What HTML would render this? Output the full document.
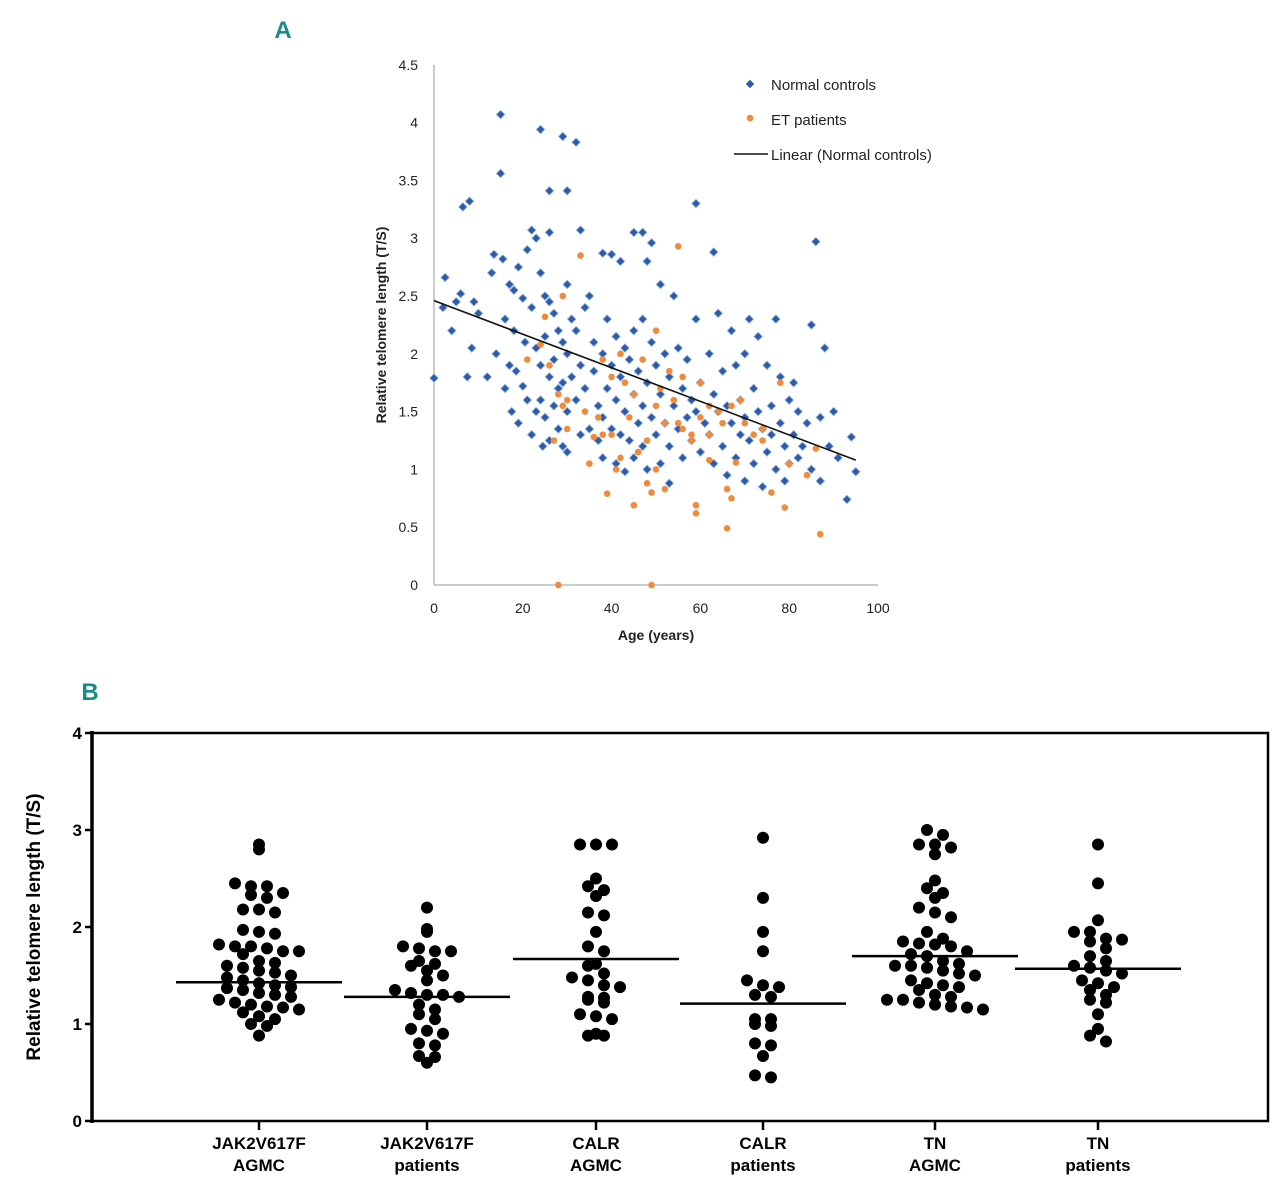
<!DOCTYPE html>
<html><head><meta charset="utf-8"><style>
body{margin:0;background:#fff;}
svg{display:block;font-family:"Liberation Sans",sans-serif;}
</style></head><body>
<svg id="chart" width="1280" height="1187" viewBox="0 0 1280 1187" xmlns="http://www.w3.org/2000/svg">
<text x="283" y="38" font-size="24" font-weight="bold" fill="#1a8a8a" text-anchor="middle">A</text>
<text x="90" y="700" font-size="24" font-weight="bold" fill="#1a8a8a" text-anchor="middle">B</text>
<g id="pa"></g>
<g id="pb"></g>
</svg>
<script>
const ageTicks=[0,20,40,60,80,100];
const tsTicks=[0,0.5,1,1.5,2,2.5,3,3.5,4,4.5];
const trendAge=[0,95];
const trendVal=[2.46,1.08];
const controls=[[0,1.79],[2,2.4],[2.5,2.66],[4,2.2],[5,2.45],[6,2.52],[6.5,3.27],[8,3.32],[7.5,1.8],[8.5,2.05],[9,2.45],[10,2.35],[12,1.8],[13,2.7],[13.5,2.86],[14,2.0],[15,4.07],[15,3.56],[15.5,2.82],[16,2.3],[16,1.7],[17,2.6],[17,1.9],[17.5,1.5],[18,2.55],[18,2.2],[18.5,1.85],[19,2.75],[19,1.4],[20,2.48],[20,1.72],[20.5,2.1],[21,2.9],[21,1.6],[22,3.07],[22,2.4],[22,1.3],[23,3.0],[23,2.05],[23,1.5],[24,3.94],[24,2.7],[24,1.9],[24,1.6],[24.5,1.2],[25,2.5],[25,2.15],[25,1.45],[26,3.41],[26,3.05],[26,2.45],[26,1.8],[26,1.25],[27,2.35],[27,1.95],[27,1.55],[28,2.2],[28,1.7],[28,1.35],[29,3.88],[29,2.1],[29,1.75],[29,1.2],[30,3.41],[30,2.6],[30,2.0],[30,1.5],[30,1.15],[31,2.3],[31,1.8],[32,3.83],[32,2.2],[32,1.6],[33,3.07],[33,1.9],[33,1.3],[34,2.4],[34,1.7],[35,2.5],[35,1.35],[36,2.1],[36,1.85],[37,1.55],[37,1.25],[38,2.87],[38,2.0],[38,1.45],[38,1.1],[39,2.3],[39,1.7],[40,2.86],[40,1.9],[40,1.35],[41,2.15],[41,1.6],[41,1.05],[42,2.8],[42,1.8],[42,1.3],[43,2.05],[43,1.5],[43,0.98],[44,1.95],[44,1.25],[45,3.05],[45,2.2],[45,1.65],[45,1.1],[46,1.85],[46,1.4],[47,3.05],[47,2.3],[47,1.55],[47,1.2],[48,2.8],[48,1.75],[48,1.0],[49,2.96],[49,2.1],[49,1.45],[50,1.9],[50,1.3],[51,2.6],[51,1.65],[51,1.05],[52,2.0],[52,1.4],[53,1.8],[53,1.2],[53,0.88],[54,2.5],[54,1.55],[55,2.05],[55,1.35],[56,1.7],[56,1.1],[57,1.95],[57,1.45],[58,1.6],[58,1.25],[59,3.3],[59,2.3],[59,1.5],[60,1.75],[60,1.15],[61,1.4],[62,2.0],[62,1.3],[63,2.88],[63,1.65],[63,1.05],[64,2.35],[64,1.5],[65,1.85],[65,1.2],[66,1.55],[66,0.95],[67,2.2],[67,1.4],[68,1.9],[68,1.1],[69,1.6],[69,1.3],[70,2.0],[70,1.45],[70,0.9],[71,2.3],[71,1.25],[72,1.7],[72,1.05],[73,2.15],[73,1.5],[74,1.35],[74,0.85],[75,1.9],[75,1.15],[76,1.55],[76,1.3],[77,2.3],[77,1.0],[78,1.8],[78,1.4],[79,1.2],[79,0.9],[80,1.6],[80,1.05],[81,1.75],[81,1.3],[82,1.5],[82,1.1],[83,1.2],[84,1.4],[85,2.25],[85,1.0],[86,2.97],[87,1.45],[87,0.9],[88,2.05],[89,1.2],[90,1.5],[91,1.1],[93,0.74],[94,1.28],[95,0.98]];
const patients=[[28,0],[49,0],[87,0.44],[66,0.49],[59,0.62],[59,0.69],[45,0.69],[39,0.79],[49,0.8],[52,0.83],[66,0.83],[76,0.8],[79,0.67],[67,0.75],[41,1.0],[50,1.0],[48,0.88],[62,1.08],[68,1.06],[80,1.05],[84,0.95],[86,1.18],[30,1.35],[36,1.28],[37,1.45],[40,1.3],[42,1.1],[44,1.45],[46,1.15],[48,1.25],[50,1.55],[52,1.4],[54,1.6],[56,1.35],[58,1.25],[60,1.45],[64,1.5],[67,1.55],[70,1.4],[72,1.3],[74,1.25],[26,1.9],[25,2.32],[24,2.08],[21,1.95],[28,1.65],[29,1.55],[34,1.5],[38,1.95],[40,1.8],[43,1.75],[45,1.65],[47,1.95],[50,2.2],[53,1.85],[55,2.93],[56,1.8],[60,1.75],[62,1.55],[65,1.4],[69,1.6],[33,2.85],[29,2.5],[42,2.0],[58,1.3],[78,1.75],[74,1.35],[62,1.3],[35,1.05],[46,1.15],[51,1.7],[27,1.25],[38,1.3],[55,1.4],[30,1.6]];

const groupLines1=["JAK2V617F","JAK2V617F","CALR","CALR","TN","TN"];
const groupLines2=["AGMC","patients","AGMC","patients","AGMC","patients"];
const medians=[1.43,1.28,1.67,1.21,1.70,1.57];
const bTicks=[0,1,2,3,4];
const g1=[2.85,2.8,2.45,2.42,2.42,2.35,2.33,2.3,2.18,2.18,2.15,1.97,1.95,1.93,1.82,1.8,1.8,1.78,1.75,1.75,1.72,1.65,1.63,1.6,1.58,1.55,1.53,1.5,1.48,1.45,1.42,1.4,1.38,1.37,1.35,1.32,1.3,1.28,1.25,1.22,1.2,1.18,1.17,1.15,1.12,1.08,1.05,1.0,0.98,0.88];
const g2=[2.2,1.98,1.95,1.8,1.78,1.75,1.75,1.65,1.62,1.6,1.55,1.5,1.45,1.35,1.32,1.3,1.3,1.28,1.2,1.15,1.1,1.05,0.95,0.93,0.9,0.8,0.78,0.67,0.66,0.6];
const g3=[2.85,2.85,2.85,2.5,2.42,2.38,2.32,2.15,2.12,1.95,1.8,1.75,1.62,1.6,1.52,1.48,1.45,1.4,1.38,1.28,1.27,1.25,1.22,1.1,1.08,1.05,0.9,0.88,0.88];
const g4=[2.92,2.3,1.95,1.75,1.45,1.4,1.38,1.3,1.28,1.05,1.05,1.0,0.98,0.8,0.78,0.67,0.47,0.45];
const g5=[3.0,2.95,2.85,2.85,2.82,2.75,2.48,2.4,2.35,2.3,2.2,2.15,2.1,1.95,1.88,1.85,1.83,1.82,1.8,1.75,1.72,1.7,1.65,1.62,1.6,1.6,1.58,1.55,1.52,1.5,1.45,1.42,1.4,1.38,1.35,1.3,1.28,1.25,1.25,1.22,1.2,1.18,1.17,1.15];
const g6=[2.85,2.45,2.07,1.95,1.95,1.88,1.87,1.85,1.78,1.7,1.65,1.6,1.58,1.55,1.52,1.45,1.42,1.38,1.35,1.3,1.25,1.22,1.1,0.95,0.88,0.82];
const groups=[g1,g2,g3,g4,g5,g6];

const NS="http://www.w3.org/2000/svg";
function mk(parent,tag,attrs,text){const e=document.createElementNS(NS,tag);for(const k in attrs)e.setAttribute(k,attrs[k]);if(text!==undefined)e.textContent=text;parent.appendChild(e);return e;}

// Panel A
const pa=document.getElementById('pa');
const ax=a=>434+a*4.44, ay=v=>585-v*115.6;
let e;
e=mk(pa,'line',{x1:434,y1:65,x2:434,y2:585,stroke:'#999','stroke-width':1});


e=mk(pa,'line',{x1:434,y1:585,x2:878,y2:585,stroke:'#999','stroke-width':1});


ageTicks.forEach(t=>{e=mk(pa,'text',{x:ax(t),y:613,'font-size':14,'text-anchor':'middle',fill:'#222'},String(t));

});
tsTicks.forEach(t=>{e=mk(pa,'text',{x:418,y:ay(t)+5,'font-size':14,'text-anchor':'end',fill:'#222'},String(t));

});
e=mk(pa,'text',{x:656,y:640,'font-size':14,'font-weight':'bold','text-anchor':'middle',fill:'#222'},'Age (years)');


e=mk(pa,'text',{x:386,y:325,'font-size':14,'font-weight':'bold','text-anchor':'middle',fill:'#222',transform:'rotate(-90 386 325)'},'Relative telomere length (T/S)');


controls.forEach(p=>{const x=ax(p[0]),y=ay(p[1]);e=mk(pa,'rect',{x:x-3,y:y-3,width:6,height:6,fill:'#2e5aa8',stroke:'#8fb3e0','stroke-width':0.8,transform:`rotate(45 ${x} ${y})`});

});
patients.forEach(p=>{e=mk(pa,'circle',{cx:ax(p[0]),cy:ay(p[1]),r:3.3,fill:'#f08a3c'});

});
e=mk(pa,'line',{x1:ax(trendAge[0]),y1:ay(trendVal[0]),x2:ax(trendAge[1]),y2:ay(trendVal[1]),stroke:'#111','stroke-width':1.6});


// legend
e=mk(pa,'rect',{x:747,y:81,width:6,height:6,fill:'#2e5aa8',transform:'rotate(45 750 84)'});


e=mk(pa,'text',{x:771,y:90,'font-size':15,fill:'#222'},'Normal controls');


e=mk(pa,'circle',{cx:750,cy:118,r:3.3,fill:'#f08a3c'});


e=mk(pa,'text',{x:771,y:125,'font-size':15,fill:'#222'},'ET patients');


e=mk(pa,'line',{x1:734,y1:154,x2:768,y2:154,stroke:'#111','stroke-width':1.5});


e=mk(pa,'text',{x:771,y:160,'font-size':15,fill:'#222'},'Linear  (Normal controls)');



// Panel B
const pb=document.getElementById('pb');
const catX=[259,427,596,763,935,1098];
const by=v=>1121-v*97;
e=mk(pb,'rect',{x:92,y:733,width:1176,height:388,fill:'none',stroke:'#000','stroke-width':2.5});


e=mk(pb,'line',{x1:92,y1:731,x2:92,y2:1123,stroke:'#000','stroke-width':3.5});


bTicks.forEach(t=>{e=mk(pb,'line',{x1:85,y1:by(t),x2:92,y2:by(t),stroke:'#000','stroke-width':2.5});


e=mk(pb,'text',{x:82,y:by(t)+6,'font-size':17,'font-weight':'bold','text-anchor':'end'},String(t));

});
e=mk(pb,'text',{x:40,y:927,'font-size':19,'font-weight':'bold','text-anchor':'middle',transform:'rotate(-90 40 927)'},'Relative telomere length (T/S)');


groups.forEach((g,i)=>{
  const cx=catX[i];
  e=mk(pb,'line',{x1:cx,y1:1121,x2:cx,y2:1130,stroke:'#000','stroke-width':2.5});
  
  
  e=mk(pb,'text',{x:cx,y:1149,'font-size':17,'font-weight':'bold','text-anchor':'middle'},groupLines1[i]);
  
  
  e=mk(pb,'text',{x:cx,y:1171,'font-size':17,'font-weight':'bold','text-anchor':'middle'},groupLines2[i]);
  
  
  // beeswarm: bin values into rows
  const rows={};
  g.forEach(v=>{const k=Math.round(v/0.12);(rows[k]=rows[k]||[]).push(v);});
  for(const k in rows){const r=rows[k];const n=r.length;
    r.forEach((v,j)=>{const x=cx+(j-(n-1)/2)*16;
      e=mk(pb,'circle',{cx:x,cy:by(v),r:6,fill:'#000'});
      
      });}
  e=mk(pb,'line',{x1:cx-83,y1:by(medians[i]),x2:cx+83,y2:by(medians[i]),stroke:'#000','stroke-width':2.5});
  
  
});
</script>
</body></html>
